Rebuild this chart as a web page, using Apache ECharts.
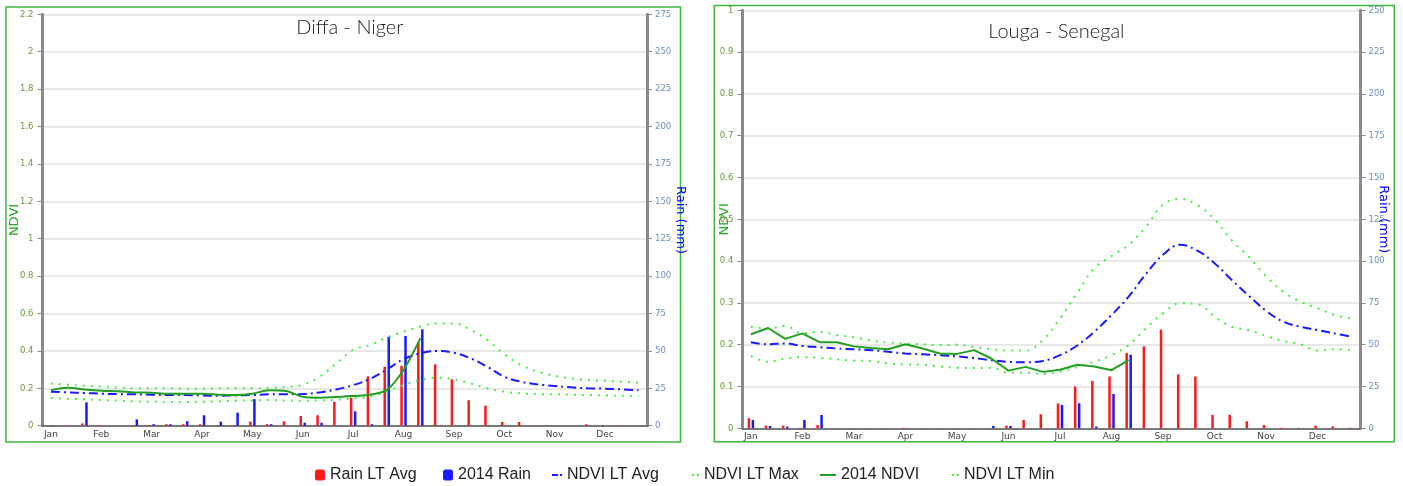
<!DOCTYPE html>
<html>
<head>
<meta charset="utf-8">
<script src="https://cdn.jsdelivr.net/npm/echarts@6/dist/echarts.min.js"></script>
<style>html,body{margin:0;padding:0;background:#fff;}#c{width:1403px;height:486px;}</style>
</head>
<body>
<div id="c"></div>
<script>
// ---- data ----
const dekads = ['Jan-1','Jan-2','Jan-3','Feb-1','Feb-2','Feb-3','Mar-1','Mar-2','Mar-3','Apr-1','Apr-2','Apr-3',
  'May-1','May-2','May-3','Jun-1','Jun-2','Jun-3','Jul-1','Jul-2','Jul-3','Aug-1','Aug-2','Aug-3',
  'Sep-1','Sep-2','Sep-3','Oct-1','Oct-2','Oct-3','Nov-1','Nov-2','Nov-3','Dec-1','Dec-2','Dec-3'];
const monthLabels = ['Jan','Feb','Mar','Apr','May','Jun','Jul','Aug','Sep','Oct','Nov','Dec'];
const ndviTicksDiffa = [0, 2.2, 0.2];
const rainTicksDiffa = [0, 275, 25];
const ndviTicksLouga = [0, 1, 0.1];
const rainTicksLouga = [0, 250, 25];

// Diffa - Niger
const diffaRainAvg = [0.2,0.3,1.5,0.3,0.3,0.5,0.5,1,1,1,0.3,0.3,2.7,1,3,6.5,7,16,18.7,33,39.4,40,56,41,31,17,13.4,2.5,2.5,0.3,0.3,0.2,1,0.3,0.3,0.2];
const diffaRain2014 = [0.3,0,15.6,0,0,4.2,1,1,3,7,2.7,8.7,17.8,1,0,2,2,0,9.6,1,59.5,60,64.4];
const diffaNdviAvg = [0.182,0.178,0.175,0.171,0.169,0.168,0.166,0.164,0.164,0.162,0.16,0.162,0.164,0.168,0.168,0.169,0.178,0.194,0.217,0.25,0.3,0.356,0.387,0.40,0.39,0.36,0.315,0.262,0.235,0.221,0.212,0.205,0.20,0.198,0.194,0.189];
const diffaNdviMax = [0.225,0.219,0.214,0.21,0.205,0.20,0.2,0.2,0.198,0.198,0.2,0.2,0.2,0.203,0.207,0.219,0.262,0.333,0.405,0.431,0.472,0.503,0.53,0.547,0.547,0.512,0.458,0.383,0.324,0.289,0.267,0.253,0.244,0.24,0.235,0.23];
const diffaNdvi2014 = [0.19,0.203,0.194,0.187,0.184,0.178,0.176,0.171,0.171,0.171,0.166,0.164,0.171,0.19,0.185,0.155,0.15,0.153,0.159,0.166,0.19,0.298,0.467];
const diffaNdviMin = [0.148,0.144,0.141,0.137,0.134,0.13,0.128,0.127,0.127,0.128,0.13,0.134,0.135,0.137,0.135,0.134,0.135,0.139,0.146,0.155,0.182,0.217,0.244,0.257,0.248,0.226,0.2,0.182,0.173,0.169,0.168,0.166,0.164,0.162,0.16,0.159];

// Louga - Senegal
const lougaRainAvg = [6,1.6,1.6,0.3,2,0.2,0.2,0.2,0.2,0.3,0.2,0.2,0.2,0.2,0.2,1.6,5,8.4,14.8,25,28.3,31,45,49,59,32.3,31,8,8,4.2,2,0.3,0.3,1.6,1.2,0.3];
const lougaRain2014 = [5,1.4,1,5,8,0,0,0,0,0,0,0,0,0,1.4,1.4,0,0,14,15,1,20.5,44];
const lougaNdviAvg = [0.206,0.201,0.203,0.197,0.194,0.191,0.189,0.187,0.183,0.179,0.177,0.175,0.172,0.168,0.163,0.159,0.158,0.161,0.175,0.198,0.231,0.271,0.315,0.369,0.415,0.439,0.425,0.395,0.355,0.317,0.281,0.255,0.243,0.235,0.227,0.219];
const lougaNdviMax = [0.243,0.239,0.245,0.227,0.231,0.223,0.218,0.21,0.205,0.203,0.201,0.199,0.2,0.195,0.189,0.186,0.186,0.211,0.263,0.323,0.383,0.412,0.439,0.482,0.535,0.549,0.534,0.50,0.45,0.41,0.364,0.327,0.303,0.287,0.271,0.263];
const lougaNdvi2014 = [0.225,0.24,0.214,0.227,0.206,0.206,0.196,0.192,0.189,0.201,0.191,0.179,0.178,0.187,0.167,0.138,0.147,0.135,0.14,0.152,0.148,0.139,0.163];
const lougaNdviMin = [0.173,0.159,0.167,0.17,0.169,0.165,0.162,0.161,0.155,0.153,0.152,0.148,0.145,0.144,0.145,0.133,0.133,0.13,0.136,0.146,0.159,0.175,0.199,0.239,0.275,0.299,0.297,0.267,0.243,0.235,0.221,0.209,0.201,0.186,0.189,0.186];

// ---- styles ----
const RED = '#ff1a1a', BLUE = '#1a1aff', GREEN = '#22a022', LGREEN = '#45f045';
const NDVI_LBL = '#6b9b37', RAIN_LBL = '#6f8fc4';

function xAx(g) {
  return {
    type: 'category', gridIndex: g, data: dekads, boundaryGap: true,
    axisLine: { lineStyle: { color: '#555', width: 1.5 } },
    axisTick: { interval: 2, alignWithLabel: true, length: 3, lineStyle: { color: '#666' } },
    axisLabel: { interval: 2, color: '#444', fontSize: 9, margin: 4, fontFamily: 'DejaVu Sans',
      formatter: (v, idx) => monthLabels[Math.floor(idx / 3)] },
    splitLine: { show: false }
  };
}
function ndviAx(g, t, gap) {
  return {
    type: 'value', gridIndex: g, min: t[0], max: t[1], interval: t[2], position: 'left',
    name: 'NDVI', nameLocation: 'middle', nameGap: gap, nameMoveOverlap: false,
    nameTextStyle: { color: '#1faa1f', fontSize: 13, fontFamily: 'DejaVu Sans' },
    axisLine: { show: true, lineStyle: { color: '#8a8a8a', width: 3 } },
    axisTick: { show: true, length: 5, lineStyle: { color: '#8a8a8a' } },
    axisLabel: { color: NDVI_LBL, fontSize: 8.5, margin: 9, fontFamily: 'DejaVu Sans' },
    splitLine: { show: true, lineStyle: { color: '#e0e0e0', width: 1.5 } }
  };
}
function rainAx(g, t, gap) {
  return {
    type: 'value', gridIndex: g, min: t[0], max: t[1], interval: t[2], position: 'right',
    name: 'Rain (mm)', nameLocation: 'middle', nameGap: gap, nameRotate: -90, nameMoveOverlap: false,
    nameTextStyle: { color: '#0000ff', fontSize: 13, fontFamily: 'DejaVu Sans' },
    axisLine: { show: true, lineStyle: { color: '#8a8a8a', width: 3 } },
    axisTick: { show: true, length: 5, lineStyle: { color: '#8a8a8a' } },
    axisLabel: { color: RAIN_LBL, fontSize: 8.5, margin: 8, fontFamily: 'DejaVu Sans' },
    splitLine: { show: false }
  };
}
function seriesFor(g, rainAvg, rain14, avg, mx, nd14, mn, smooth14) {
  const xi = g, yN = g * 2, yR = g * 2 + 1;
  return [
    { name: 'Rain LT Avg', type: 'bar', xAxisIndex: xi, yAxisIndex: yR, data: rainAvg, barWidth: 2.5, barGap: '60%', itemStyle: { color: RED }, z: 2 },
    { name: '2014 Rain', type: 'bar', xAxisIndex: xi, yAxisIndex: yR, data: rain14, barWidth: 2.5, barGap: '60%', itemStyle: { color: BLUE }, z: 2 },
    { name: 'NDVI LT Avg', type: 'line', xAxisIndex: xi, yAxisIndex: yN, data: avg, symbol: 'none', smooth: 0.4,
      lineStyle: { color: BLUE, width: 2, type: [9, 4, 2, 4] }, itemStyle: { color: BLUE }, z: 4 },
    { name: 'NDVI LT Max', type: 'line', xAxisIndex: xi, yAxisIndex: yN, data: mx, symbol: 'none', smooth: 0.4,
      lineStyle: { color: LGREEN, width: 2, type: [2, 6] }, itemStyle: { color: LGREEN }, z: 3 },
    { name: '2014 NDVI', type: 'line', xAxisIndex: xi, yAxisIndex: yN, data: nd14, symbol: 'none', smooth: smooth14,
      lineStyle: { color: GREEN, width: 2 }, itemStyle: { color: GREEN }, z: 5 },
    { name: 'NDVI LT Min', type: 'line', xAxisIndex: xi, yAxisIndex: yN, data: mn, symbol: 'none', smooth: 0.4,
      lineStyle: { color: LGREEN, width: 2, type: [2, 6] }, itemStyle: { color: LGREEN }, z: 3 }
  ];
}
function leg(name, left, w, h, icon) {
  return { data: [name], left: left, top: 467, padding: 0, itemWidth: w, itemHeight: h, selectedMode: false, icon: icon,
    textStyle: { fontSize: 16, fontFamily: 'Liberation Sans', color: '#222', lineHeight: 16 } };
}
const ICON_DASHDOT = 'path://M0,0h6v2h-6z M8,0h2v2h-2z';
const ICON_DOTS = 'path://M0,0h2v2h-2z M5,0h2v2h-2z';
const ICON_SOLID = 'path://M0,0h16v2h-16z';

const chart = echarts.init(document.getElementById('c'), null, { renderer: 'canvas' });
chart.setOption({
  animation: false,
  backgroundColor: '#fff',
  title: [
    { text: 'Diffa - Niger', left: 344.8, top: 13, textAlign: 'center',
      textStyle: { fontSize: 20, fontWeight: 300, fontFamily: 'Lato', color: '#222' } },
    { text: 'Louga - Senegal', left: 1051.4, top: 17, textAlign: 'center',
      textStyle: { fontSize: 20, fontWeight: 300, fontFamily: 'Lato', color: '#222' } }
  ],
  grid: [
    { left: 42.5, top: 14.3, width: 604.5, height: 411.4, containLabel: false },
    { left: 742.3, top: 10.3, width: 618.2, height: 418, containLabel: false }
  ],
  xAxis: [xAx(0), xAx(1)],
  yAxis: [ndviAx(0, ndviTicksDiffa, 21), rainAx(0, rainTicksDiffa, 27), ndviAx(1, ndviTicksLouga, 11), rainAx(1, rainTicksLouga, 16)],
  legend: [
    leg('Rain LT Avg', 315, 10, 11, 'roundRect'),
    leg('2014 Rain', 443, 10, 11, 'roundRect'),
    leg('NDVI LT Avg', 552, 10, 2, ICON_DASHDOT),
    leg('NDVI LT Max', 692, 7, 2, ICON_DOTS),
    leg('2014 NDVI', 820, 16, 2, ICON_SOLID),
    leg('NDVI LT Min', 952, 7, 2, ICON_DOTS)
  ],
  graphic: [
    { type: 'rect', shape: { x: 6, y: 7, width: 674.5, height: 435 }, style: { fill: 'none', stroke: '#3cb83c', lineWidth: 1.5 }, silent: true },
    { type: 'rect', shape: { x: 714.3, y: 5.5, width: 680, height: 436.2 }, style: { fill: 'none', stroke: '#3cb83c', lineWidth: 1.5 }, silent: true }
  ],
  series: [].concat(
    seriesFor(0, diffaRainAvg, diffaRain2014, diffaNdviAvg, diffaNdviMax, diffaNdvi2014, diffaNdviMin, 0.3),
    seriesFor(1, lougaRainAvg, lougaRain2014, lougaNdviAvg, lougaNdviMax, lougaNdvi2014, lougaNdviMin, false)
  )
});
</script>
</body>
</html>
